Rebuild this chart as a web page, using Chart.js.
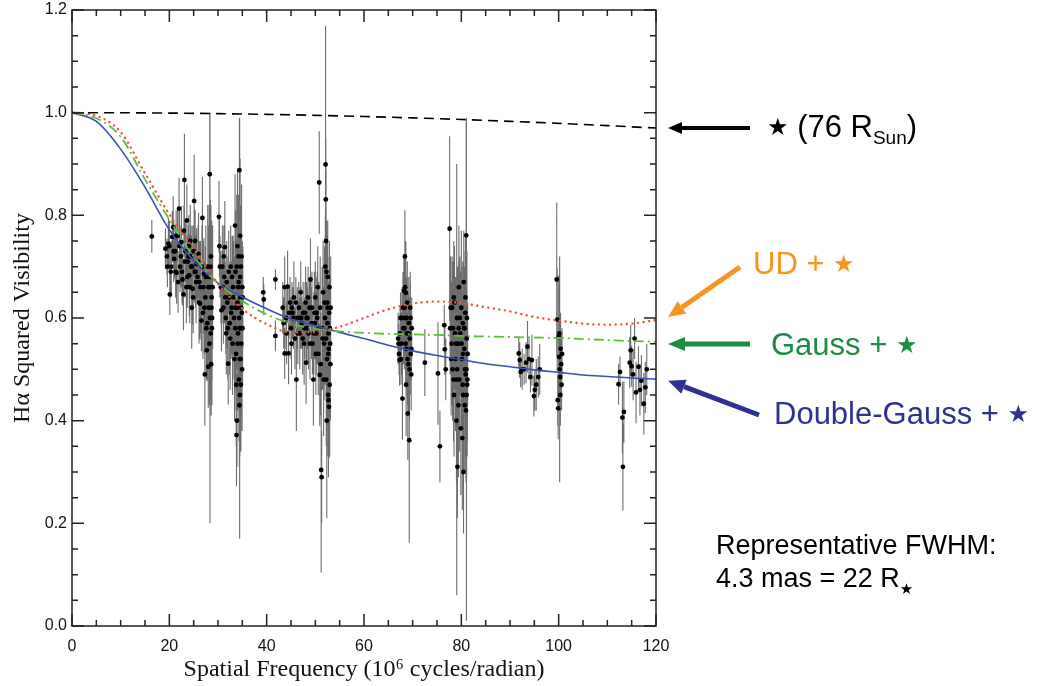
<!DOCTYPE html>
<html>
<head>
<meta charset="utf-8">
<script src="https://cdn.jsdelivr.net/npm/chart.js@4/dist/chart.umd.min.js"></script>
<style>
html,body{margin:0;padding:0;background:#fff;}
#wrap{position:relative;width:1037px;height:686px;overflow:hidden;}
#c{position:absolute;left:0;top:0;}
svg{position:absolute;left:0;top:0;}
.ann{position:absolute;font-family:"Liberation Sans",Arial,Helvetica,sans-serif;white-space:nowrap;font-size:31px;line-height:30px;}
.star{font-family:"DejaVu Sans",sans-serif;font-size:24px;position:relative;top:-2px;}
.sub{font-size:19px;position:relative;top:7px;}
.note{font-size:27px;line-height:27px;color:#000;}
.substar{font-family:"DejaVu Sans",sans-serif;font-size:15px;position:relative;top:7px;}
</style>
</head>
<body>
<div id="wrap">
<canvas id="c" width="1037" height="686"></canvas>
<svg width="1037" height="686">
  <defs>
    <marker id="hk" markerUnits="userSpaceOnUse" markerWidth="14" markerHeight="12" refX="0" refY="6" orient="auto" overflow="visible"><path d="M0,0 L14,6 L0,12 z" fill="#000"/></marker>
    <marker id="ho" markerUnits="userSpaceOnUse" markerWidth="17" markerHeight="15" refX="0" refY="7.5" orient="auto" overflow="visible"><path d="M0,0 L17,7.5 L0,15 z" fill="#f7941d"/></marker>
    <marker id="hg" markerUnits="userSpaceOnUse" markerWidth="17" markerHeight="14" refX="0" refY="7" orient="auto" overflow="visible"><path d="M0,0 L17,7 L0,14 z" fill="#1c8c43"/></marker>
    <marker id="hb" markerUnits="userSpaceOnUse" markerWidth="17" markerHeight="15" refX="0" refY="7.5" orient="auto" overflow="visible"><path d="M0,0 L17,7.5 L0,15 z" fill="#2e3192"/></marker>
  </defs>
  <line x1="750" y1="128" x2="682" y2="128" stroke="#000" stroke-width="4" marker-end="url(#hk)"/>
  <line x1="740" y1="267" x2="682" y2="307.3" stroke="#f7941d" stroke-width="5" marker-end="url(#ho)"/>
  <line x1="750" y1="344" x2="685" y2="344" stroke="#1c8c43" stroke-width="5" marker-end="url(#hg)"/>
  <line x1="759" y1="415" x2="684" y2="386.7" stroke="#2e3192" stroke-width="5" marker-end="url(#hb)"/>
</svg>
<div class="ann" style="left:767px;top:112px;color:#000"><span class="star">★</span> (76 R<span class="sub">Sun</span>)</div>
<div class="ann" style="left:753px;top:249px;color:#f7941d">UD + <span class="star">★</span></div>
<div class="ann" style="left:771px;top:330px;color:#1c8c43">Gauss + <span class="star">★</span></div>
<div class="ann" style="left:774px;top:399px;color:#2e3192">Double-Gauss + <span class="star">★</span></div>
<div class="ann note" style="left:716px;top:532px;">Representative FWHM:</div>
<div class="ann note" style="left:716px;top:565px;">4.3 mas = 22 R<span class="substar">★</span></div>
</div>
<script>
// ---- axis ticks ----
const xTicks = [0, 20, 40, 60, 80, 100, 120];
const xTickLabels = ['0', '20', '40', '60', '80', '100', '120'];
const yTicks = [0, 0.2, 0.4, 0.6, 0.8, 1.0, 1.2];
const yTickLabels = ['0.0', '0.2', '0.4', '0.6', '0.8', '1.0', '1.2'];

// ---- model curves ----
const curveX =       [0,     5,     10,    15,    20,    25,    30,    35,    40,    45,    50,    55,    60,    65,    70,    75,    80,    85,    90,    95,    100,   105,   110,   115,   120];
const udModel =      [1.000, 0.994, 0.962, 0.882, 0.802, 0.735, 0.667, 0.618, 0.588, 0.572, 0.573, 0.583, 0.600, 0.617, 0.628, 0.632, 0.629, 0.621, 0.613, 0.602, 0.595, 0.589, 0.587, 0.589, 0.596];
const gaussModel =   [1.000, 0.989, 0.953, 0.870, 0.792, 0.720, 0.668, 0.633, 0.607, 0.589, 0.579, 0.574, 0.571, 0.569, 0.568, 0.567, 0.565, 0.564, 0.563, 0.562, 0.561, 0.559, 0.557, 0.555, 0.554];
const dgaussModel =  [1.000, 0.983, 0.929, 0.855, 0.772, 0.712, 0.668, 0.641, 0.618, 0.598, 0.585, 0.572, 0.560, 0.547, 0.536, 0.527, 0.519, 0.511, 0.505, 0.499, 0.494, 0.489, 0.486, 0.483, 0.481];
const starX =        [0, 10, 20, 30, 40, 50, 60, 70, 80, 90, 100, 110, 120];
const starV =        [1.000, 0.9998, 0.9992, 0.9981, 0.9967, 0.9948, 0.9925, 0.9898, 0.9867, 0.9831, 0.9792, 0.9748, 0.9700];

// ---- observed squared visibilities (x, V^2, error) ----
const obsX = [
 16.4, 19.2,19.5,19.8,20.1,20.4,20.6,20.8,21.0,21.2,21.5,
 21.7,22.0,22.2,22.5,22.7,22.9,23.1,23.3,23.6,23.8,
 23.9,24.1,24.3,24.5,24.8,25.0,25.1,25.3,25.6,25.8,
 26.0,26.3,26.6,26.8,27.0,27.1,27.4,27.7,27.9,28.0,
 28.1,28.2,28.3,28.35,28.4,28.5,28.6,28.7,28.55,28.8,
 21.3,22.4,23.0,23.5,24.0,24.6,25.4,26.2,26.9,27.6,
 30.2,30.4,30.7,31.0,31.2,31.4,31.6,31.8,32.0,32.1,
 32.3,32.4,32.6,32.8,33.0,33.1,33.3,33.5,33.6,33.7,
 33.8,33.9,34.0,34.1,34.2,34.3,34.4,34.45,34.5,34.6,
 34.7,34.8,34.9,35.0,34.55,34.65,34.25,33.95,31.5,32.9,
 39.3,39.4,41.8,41.8,43.3,43.7,43.7,44.0,44.3,44.5,
 44.8,45.0,45.3,45.6,45.8,46.1,46.3,46.6,46.8,47.0,
 47.2,47.5,47.7,48.0,48.1,48.4,48.6,48.8,49.0,49.2,
 49.4,49.6,49.8,50.0,50.2,50.4,50.6,50.8,50.9,51.0,
 51.2,51.3,51.4,51.6,51.8,52.0,52.1,52.15,52.2,52.3,
 52.4,52.5,52.6,52.7,52.8,52.9,53.0,53.1,52.35,52.05,
 51.7,45.2,46.9,48.3,49.9,51.5,52.45,52.75,50.5,47.9,
 67.0,67.2,67.3,67.5,67.7,67.9,68.0,68.2,68.3,68.4,
 68.5,68.6,68.7,68.8,68.9,69.0,69.1,69.2,69.3,69.4,
 69.5,69.6,69.7,69.8,72.5,75.2,75.6,76.5,76.6,76.8,
 77.6,77.8,78.0,78.2,78.3,78.5,78.6,78.8,79.0,79.1,
 79.3,79.5,79.6,79.8,79.9,80.0,80.1,80.2,80.3,80.4,
 80.5,80.6,80.7,80.8,80.9,81.0,81.05,81.1,81.2,81.3,
 79.2,80.45,79.05,78.9,80.65,
 91.8,92.0,92.2,92.5,92.9,93.3,93.6,93.9,94.2,94.5,
 94.9,95.1,95.4,95.8,96.1,
 99.6,99.7,99.8,99.9,100.0,100.1,100.2,100.3,100.4,100.5,100.6,100.7,
 112.3,112.6,113.1,113.4,113.2,114.6,114.8,115.0,115.3,115.6,
 115.9,116.4,116.7,117.0,117.5,117.8,118.1,
 19.6,20.0,20.3,20.9,21.4,21.8,22.1,22.6,23.2,23.7,
 24.2,24.4,24.7,24.9,25.2,25.5,25.9,26.1,26.4,26.7,
 27.2,27.5,27.8,28.05,28.25,28.45,28.65,28.75,28.9,27.3,
 30.3,30.6,30.9,31.1,31.3,31.7,31.9,32.2,32.5,32.7,
 33.2,33.4,33.55,33.65,33.75,33.85,34.05,34.15,34.35,34.5,
 34.55,34.6,34.7,34.75,34.85,34.95,35.05,35.1,34.4,34.0,
 43.5,44.1,44.6,45.1,45.5,46.0,46.4,47.1,47.4,47.8,
 48.2,48.5,48.9,49.3,49.7,50.1,50.3,50.7,51.1,51.9,
 52.2,52.25,52.5,52.55,52.65,52.85,52.95,53.05,53.15,52.7,
 67.1,67.4,67.6,67.8,68.1,68.35,68.55,68.75,68.95,69.15,
 69.35,69.55,69.75,68.45,68.65,
 77.7,77.9,78.1,78.4,78.7,79.15,79.4,79.7,80.05,80.25,
 80.55,80.75,80.85,80.95,81.15,81.25,80.35,79.45,78.45,81.08,
 100.15,100.35
];
const obsV = [
 .759, .735,.72,.745,.646,.70,.758,.777,.715,.73,.688,
 .76,.813,.70,.748,.675,.646,.869,.73,.79,.71,
 .72,.683,.75,.70,.657,.73,.828,.75,.705,.68,
 .725,.628,.595,.795,.66,.686,.64,.537,.70,.505,
 .62,.68,.88,.60,.66,.57,.51,.64,.72,.60,
 .69,.72,.77,.66,.74,.62,.69,.67,.61,.58,
 .797,.70,.615,.66,.72,.738,.60,.67,.58,.511,
 .64,.59,.70,.62,.55,.66,.60,.78,.69,.53,
 .372,.40,.63,.57,.72,.48,.888,.58,.45,.64,
 .70,.55,.61,.66,.76,.52,.67,.62,.64,.68,
 .650,.636,.675,.565,.62,.66,.531,.60,.661,.531,
 .63,.58,.61,.64,.56,.48,.60,.62,.57,.65,
 .59,.61,.55,.63,.513,.60,.57,.62,.675,.59,
 .55,.48,.61,.64,.57,.60,.53,.864,.489,.62,
 .304,.29,.58,.65,.55,.60,.899,.831,.75,.69,
 .52,.62,.45,.57,.427,.66,.58,.51,.40,.70,
 .48,.62,.60,.58,.59,.56,.63,.54,.66,.61,
 .56,.53,.518,.60,.55,.443,.62,.653,.58,.72,
 .60,.649,.54,.57,.63,.414,.51,.59,.362,.56,
 .62,.53,.49,.58,.513,.492,.35,.586,.539,.50,
 .774,.62,.55,.50,.58,.45,.63,.52,.40,.60,
 .55,.66,.48,.57,.385,.62,.52,.366,.59,.45,
 .67,.54,.43,.61,.49,.761,.50,.56,.47,.53,
 .31,.30,.48,.55,.58,
 .531,.518,.495,.50,.50,.513,.544,.52,.485,.518,
 .448,.46,.47,.485,.50,
 .675,.597,.44,.424,.563,.524,.50,.485,.54,.51,.47,.53,
 .471,.495,.406,.417,.31,.513,.537,.506,.49,.56,
 .455,.505,.46,.478,.433,.465,.50,
 .70,.74,.69,.73,.76,.67,.74,.69,.71,.68,
 .66,.72,.70,.64,.69,.67,.71,.63,.66,.70,
 .62,.68,.59,.66,.55,.70,.62,.58,.66,.49,
 .74,.66,.70,.62,.68,.57,.63,.69,.56,.61,
 .64,.52,.58,.62,.47,.70,.55,.66,.60,.52,
 .68,.58,.47,.62,.72,.50,.58,.64,.43,.74,
 .59,.57,.61,.55,.60,.63,.57,.60,.56,.58,
 .60,.64,.55,.62,.57,.53,.61,.58,.51,.63,
 .56,.48,.59,.68,.53,.61,.47,.55,.62,.44,
 .55,.57,.52,.60,.58,.62,.55,.60,.52,.57,
 .50,.60,.54,.66,.47,
 .58,.52,.62,.48,.57,.50,.43,.60,.55,.47,
 .58,.50,.64,.42,.60,.48,.53,.58,.64,.45,
 .57,.45
];
const obsErr = [
 .032, .04,.035,.05,.04,.05,.05,.06,.04,.05,.06,
 .05,.06,.05,.07,.05,.07,.09,.06,.07,.05,
 .06,.08,.07,.06,.07,.05,.09,.06,.07,.05,
 .08,.07,.06,.08,.09,.07,.10,.06,.12,.08,
 .10,.14,.12,.40,.12,.13,.10,.15,.10,.12,
 .05,.06,.05,.07,.06,.08,.07,.08,.09,.10,
 .07,.06,.08,.07,.06,.09,.07,.08,.10,.08,
 .07,.10,.08,.09,.10,.10,.12,.10,.12,.11,
 .10,.09,.13,.14,.12,.12,.10,.41,.12,.13,
 .12,.14,.10,.09,.15,.15,.11,.12,.07,.08,
 .03,.03,.02,.03,.05,.06,.05,.06,.07,.06,
 .05,.06,.05,.07,.06,.10,.06,.05,.07,.06,
 .05,.06,.08,.07,.08,.06,.07,.06,.08,.07,
 .06,.09,.08,.07,.08,.09,.08,.10,.10,.10,
 .20,.09,.12,.10,.11,.13,.27,.12,.14,.10,
 .13,.12,.12,.10,.10,.09,.10,.11,.19,.10,
 .11,.05,.06,.07,.07,.10,.13,.12,.08,.06,
 .05,.04,.05,.05,.06,.08,.07,.07,.08,.09,
 .07,.10,.09,.08,.08,.09,.10,.09,.20,.08,
 .07,.08,.07,.06,.065,.10,.07,.04,.05,.06,
 .18,.10,.12,.10,.13,.12,.11,.14,.12,.10,
 .15,.12,.14,.12,.13,.15,.13,.14,.12,.15,
 .10,.12,.13,.12,.16,.22,.49,.12,.14,.10,
 .10,.12,.42,.13,.12,
 .03,.035,.03,.04,.03,.04,.05,.04,.03,.05,
 .04,.04,.05,.04,.05,
 .15,.10,.05,.06,.12,.10,.22,.08,.07,.06,.05,.05,
 .04,.03,.07,.06,.085,.05,.05,.04,.05,.04,
 .06,.04,.05,.05,.06,.05,.05,
 .04,.05,.05,.06,.05,.06,.07,.06,.07,.06,
 .07,.06,.08,.07,.06,.08,.07,.08,.09,.08,
 .09,.10,.11,.12,.12,.13,.14,.15,.12,.10,
 .06,.07,.08,.07,.09,.08,.09,.08,.10,.09,
 .11,.12,.12,.13,.12,.14,.13,.14,.15,.13,
 .14,.15,.13,.16,.14,.12,.11,.10,.12,.15,
 .05,.06,.05,.06,.06,.05,.06,.06,.07,.06,
 .07,.06,.07,.07,.08,.08,.07,.09,.10,.11,
 .12,.13,.12,.11,.12,.11,.14,.12,.10,.15,
 .04,.05,.05,.06,.07,.07,.08,.08,.09,.08,
 .10,.07,.06,.09,.10,
 .09,.11,.10,.12,.11,.13,.14,.12,.15,.14,
 .12,.13,.12,.14,.13,.12,.15,.13,.11,.16,
 .09,.06
];

// ---- build library datasets from the arrays ----
const pts = (xs, ys) => xs.map((x, i) => ({x: x, y: ys[i]}));
const obsPoints = obsX.map((x, i) => ({x: x, y: obsV[i]}));
const errSegments = [];
obsX.forEach((x, i) => {
  errSegments.push({x: x, y: obsV[i] - obsErr[i]}, {x: x, y: obsV[i] + obsErr[i]}, {x: x, y: null});
});

const frameTicks = {
  id: 'frameTicks',
  afterDraw(chart) {
    const {ctx, chartArea: a, scales: {x, y}} = chart;
    ctx.save();
    ctx.strokeStyle = '#222';
    ctx.lineWidth = 1.5;
    ctx.strokeRect(a.left, a.top, a.right - a.left, a.bottom - a.top);
    ctx.beginPath();
    for (let k = 0; k <= 24; k++) {
      const px = x.getPixelForValue(k * 5);
      const L = (k % 4 === 0) ? 12 : 6;
      ctx.moveTo(px, a.bottom); ctx.lineTo(px, a.bottom - L);
      ctx.moveTo(px, a.top); ctx.lineTo(px, a.top + L);
    }
    for (let k = 0; k <= 24; k++) {
      const py = y.getPixelForValue(k * 0.05);
      const L = (k % 4 === 0) ? 12 : 6;
      ctx.moveTo(a.left, py); ctx.lineTo(a.left + L, py);
      ctx.moveTo(a.right, py); ctx.lineTo(a.right - L, py);
    }
    ctx.stroke();
    ctx.restore();
  }
};

const tickFont = {family: '"Liberation Sans", Arial, Helvetica, sans-serif', size: 16};
const titleFont = {family: '"Liberation Serif", "Times New Roman", serif', size: 24};

new Chart(document.getElementById('c'), {
  type: 'scatter',
  data: {
    datasets: [
      {type: 'line', data: pts(starX, starV), borderColor: '#000', borderWidth: 1.6, borderDash: [10, 6], pointRadius: 0, fill: false, tension: 0.3, order: 0},
      {type: 'line', data: pts(curveX, udModel), borderColor: '#f0553a', borderWidth: 2.4, borderDash: [0.1, 5.5], borderCapStyle: 'round', pointRadius: 0, fill: false, cubicInterpolationMode: 'monotone', order: 0},
      {type: 'line', data: pts(curveX, gaussModel), borderColor: '#5cbf38', borderWidth: 1.8, borderDash: [10, 4, 2, 4], pointRadius: 0, fill: false, cubicInterpolationMode: 'monotone', order: 0},
      {type: 'line', data: pts(curveX, dgaussModel), borderColor: '#3b4fb8', borderWidth: 1.6, pointRadius: 0, fill: false, cubicInterpolationMode: 'monotone', order: 0},
      {type: 'scatter', data: obsPoints, pointRadius: 2.4, pointBackgroundColor: '#000', pointBorderWidth: 0, order: 1},
      {type: 'line', data: errSegments, borderColor: 'rgba(60,60,60,0.75)', borderWidth: 1.1, pointRadius: 0, spanGaps: false, fill: false, order: 2}
    ]
  },
  options: {
    responsive: false,
    animation: false,
    devicePixelRatio: 1,
    layout: {padding: {left: 0, right: 381, top: 10, bottom: 0}},
    plugins: {legend: {display: false}, tooltip: {enabled: false}},
    scales: {
      x: {
        type: 'linear', min: 0, max: 120,
        grid: {display: false, drawTicks: false},
        border: {display: false},
        afterBuildTicks: s => { s.ticks = xTicks.map(v => ({value: v})); },
        afterFit: s => { s.height = 60; s.paddingLeft = 0; s.paddingRight = 0; },
        ticks: {font: tickFont, color: '#111', padding: 11, maxRotation: 0,
          callback: (v) => { const i = xTicks.indexOf(v); return i >= 0 ? xTickLabels[i] : ''; }},
        title: {display: true, text: 'Spatial Frequency (10⁶ cycles/radian)', font: titleFont, color: '#111', padding: {top: 0, bottom: 2}}
      },
      y: {
        type: 'linear', min: 0, max: 1.2,
        grid: {display: false, drawTicks: false},
        border: {display: false},
        afterBuildTicks: s => { s.ticks = yTicks.map(v => ({value: v})); },
        afterFit: s => { s.width = 72; s.paddingTop = 0; s.paddingBottom = 0; },
        ticks: {font: tickFont, color: '#111', padding: 5,
          callback: (v) => { const i = yTicks.findIndex(t => Math.abs(t - v) < 1e-6); return i >= 0 ? yTickLabels[i] : ''; }},
        title: {display: true, text: 'Hα Squared Visibility', font: titleFont, color: '#111', padding: {top: 8, bottom: 0}}
      }
    }
  },
  plugins: [frameTicks]
});
</script>
</body>
</html>
